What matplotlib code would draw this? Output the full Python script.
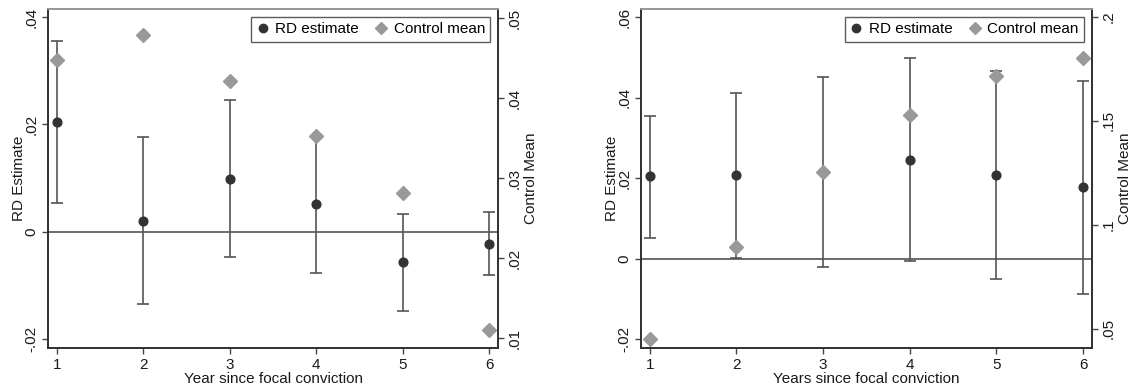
import matplotlib
matplotlib.use("Agg")
import matplotlib.pyplot as plt
from matplotlib.lines import Line2D

plt.rcParams['font.family'] = ['Liberation Sans', 'DejaVu Sans']

years = [1, 2, 3, 4, 5, 6]

# Left panel
rd_left = [0.0204, 0.0020, 0.0099, 0.0052, -0.0056, -0.0022]
ci_hi_left = [0.0355, 0.0177, 0.0246, 0.0179, 0.0034, 0.0037]
ci_lo_left = [0.0054, -0.0134, -0.0047, -0.0077, -0.0147, -0.0081]
cm_left = [0.0448, 0.0479, 0.0422, 0.0353, 0.0281, 0.0110]

# Right panel
rd_right = [0.0205, 0.0207, 0.0216, 0.0246, 0.0207, 0.0178]
ci_hi_right = [0.0356, 0.0413, 0.0452, 0.0499, 0.0467, 0.0441]
ci_lo_right = [0.0052, 0.0002, -0.0021, -0.0006, -0.0051, -0.0087]
cm_right = [0.0449, 0.0893, 0.1254, 0.1527, 0.1715, 0.1800]

left_yticks = [-0.02, 0, 0.02, 0.04]
left_yticklabels = ['-.02', '0', '.02', '.04']
left_y2ticks = [0.01, 0.02, 0.03, 0.04, 0.05]
left_y2ticklabels = ['.01', '.02', '.03', '.04', '.05']
right_yticks = [-0.02, 0, 0.02, 0.04, 0.06]
right_yticklabels = ['-.02', '0', '.02', '.04', '.06']
right_y2ticks = [0.05, 0.10, 0.15, 0.20]
right_y2ticklabels = ['.05', '.1', '.15', '.2']

fig = plt.figure(figsize=(11.3, 3.91), dpi=100)

DOT = '#333333'
DIA = '#999999'
LINE = '#555555'
TXT = '#1a1a1a'


def panel(rect, rd, hi, lo, cm, ylim, yt, ytl, y2lim, y2t, y2tl, xlabel):
    ax = fig.add_axes(rect)
    ax2 = ax.twinx()
    ax.set_xlim(0.9, 6.1)
    ax.set_ylim(*ylim)
    ax2.set_ylim(*y2lim)
    ax.axhline(0, color='#444444', lw=1.1, zorder=1)
    yerr = [[r - l for r, l in zip(rd, lo)], [h - r for r, h in zip(rd, hi)]]
    ax.errorbar(years, rd, yerr=yerr, fmt='o', color=DOT, ecolor=LINE,
                elinewidth=1.2, capsize=4, capthick=1.2, markersize=6.3, zorder=3)
    ax2.plot(years, cm, linestyle='none', marker='D', color=DIA,
             markersize=7, zorder=4)
    ax.set_xticks(years)
    ax.set_xticklabels([str(y) for y in years])
    ax.set_yticks(yt)
    ax.set_yticklabels(ytl, rotation=90, va='center')
    ax2.set_yticks(y2t)
    ax2.set_yticklabels(y2tl, rotation=90, va='center')
    for a in (ax, ax2):
        a.tick_params(direction='out', length=4, width=1, colors='#444444',
                      labelcolor=TXT, labelsize=11, pad=3)
        for s in ('left', 'bottom', 'right'):
            a.spines[s].set_color('#333333')
            a.spines[s].set_linewidth(1.3)
        a.spines['top'].set_color('#999999')
        a.spines['top'].set_linewidth(1.3)
    ax.set_xlabel(xlabel, fontsize=11, color=TXT, labelpad=0)
    ax.set_ylabel('RD Estimate', fontsize=11, color=TXT, labelpad=-1)
    ax2.set_ylabel('Control Mean', fontsize=11, color=TXT, labelpad=2)
    handles = [
        Line2D([], [], linestyle='none', marker='o', color=DOT, markersize=6),
        Line2D([], [], linestyle='none', marker='D', color=DIA, markersize=6),
    ]
    leg = ax2.legend(handles, ['RD estimate', 'Control mean'], ncol=2,
                     loc='upper right', bbox_to_anchor=(0.99, 0.985),
                     fontsize=11, frameon=True, fancybox=False,
                     handlelength=0.8, handletextpad=0.4, columnspacing=1.1,
                     borderpad=0.35, borderaxespad=0.2)
    leg.get_frame().set_edgecolor('#333333')
    leg.get_frame().set_linewidth(1.0)
    return ax, ax2


panel([0.0425, 0.110, 0.3982, 0.867], rd_left, ci_hi_left, ci_lo_left, cm_left,
      (-0.0216, 0.0415), left_yticks, left_yticklabels,
      (0.00879, 0.05116), left_y2ticks, left_y2ticklabels,
      'Year since focal conviction')
panel([0.5673, 0.110, 0.3988, 0.867], rd_right, ci_hi_right, ci_lo_right, cm_right,
      (-0.0222, 0.0621), right_yticks, right_yticklabels,
      (0.0407, 0.2037), right_y2ticks, right_y2ticklabels,
      'Years since focal conviction')

fig.savefig('out.png', dpi=100)
